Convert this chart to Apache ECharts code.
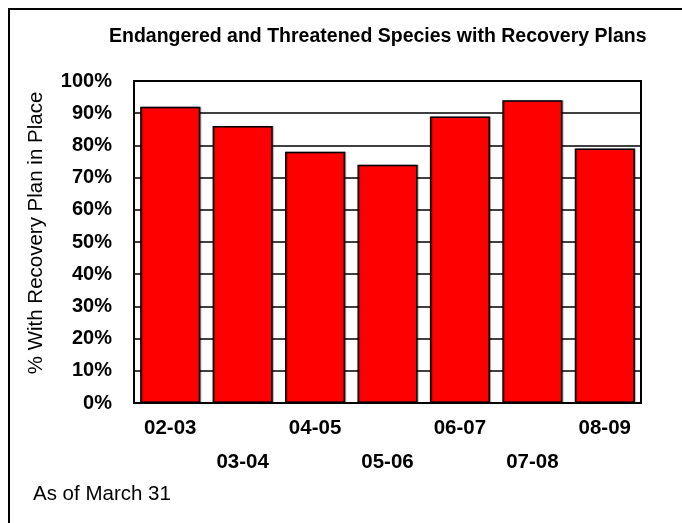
<!DOCTYPE html>
<html>
<head>
<meta charset="utf-8">
<script src="https://cdn.jsdelivr.net/npm/echarts@6/dist/echarts.min.js"></script>
<style>
  html, body { margin: 0; padding: 0; background: #fff; }
  #chart { width: 682px; height: 523px; }
</style>
</head>
<body>
<div id="chart"></div>
<script>
// Fiscal years and share of listed species with a recovery plan (%)
const fiscalYears = ['02-03', '03-04', '04-05', '05-06', '06-07', '07-08', '08-09'];
const recoveryPlanPct = [92, 86, 78, 74, 89, 94, 79];
const yTicks = [0, 10, 20, 30, 40, 50, 60, 70, 80, 90, 100];

const FONT = 'Arial, "Liberation Sans", sans-serif';

const chart = echarts.init(document.getElementById('chart'), null, { renderer: 'canvas' });

chart.setOption({
  animation: false,
  backgroundColor: '#ffffff',
  title: {
    text: 'Endangered and Threatened Species with Recovery Plans',
    left: 109,
    top: 27,
    padding: 0,
    textStyle: { fontFamily: FONT, fontSize: 19.5, fontWeight: 'bold', color: '#000' }
  },
  grid: {
    left: 134, right: 41, top: 81, bottom: 120,
    show: true, borderColor: '#000', borderWidth: 2, backgroundColor: 'transparent'
  },
  xAxis: {
    type: 'category',
    data: fiscalYears,
    axisLine: { show: true, lineStyle: { color: '#000', width: 2 } },
    axisTick: { show: false },
    axisLabel: {
      interval: 0,
      margin: 9,
      fontFamily: FONT, fontSize: 20.5, fontWeight: 'bold', color: '#000',
      lineHeight: 33.5,
      formatter: (v, i) => (i % 2 === 1 ? '\n' + v : v)
    }
  },
  yAxis: {
    type: 'value',
    min: yTicks[0],
    max: yTicks[yTicks.length - 1],
    interval: 10,
    axisLine: { show: true, lineStyle: { color: '#000', width: 2 } },
    axisTick: { show: false },
    splitLine: { show: true, lineStyle: { color: '#000', width: 1.5 } },
    axisLabel: {
      margin: 22,
      fontFamily: FONT, fontSize: 20, fontWeight: 'bold', color: '#000',
      formatter: v => v + '%'
    }
  },
  series: [{
    type: 'bar',
    data: recoveryPlanPct,
    barCategoryGap: '17%',
    itemStyle: {
      color: '#ff0000',
      borderColor: '#000',
      borderWidth: 1.5,
      shadowColor: 'rgba(0,0,0,0.35)',
      shadowOffsetX: 1,
      shadowOffsetY: 0,
      shadowBlur: 1
    },
    z: 3
  }],
  graphic: [
    { type: 'line', shape: { x1: 8, y1: 9, x2: 682, y2: 9 }, style: { stroke: '#000', lineWidth: 2 } },
    { type: 'line', shape: { x1: 9, y1: 8, x2: 9, y2: 523 }, style: { stroke: '#000', lineWidth: 2 } },
    {
      // vertical axis title
      type: 'text', x: 36, y: 233, rotation: Math.PI / 2,
      style: {
        text: '% With Recovery Plan in Place', fontFamily: FONT, fontSize: 20.5, fill: '#000',
        align: 'center', verticalAlign: 'middle'
      }
    },
    {
      type: 'text', left: 33, top: 484,
      style: { text: 'As of March 31', fontFamily: FONT, fontSize: 20.5, fill: '#000' }
    }
  ]
});
</script>
</body>
</html>
